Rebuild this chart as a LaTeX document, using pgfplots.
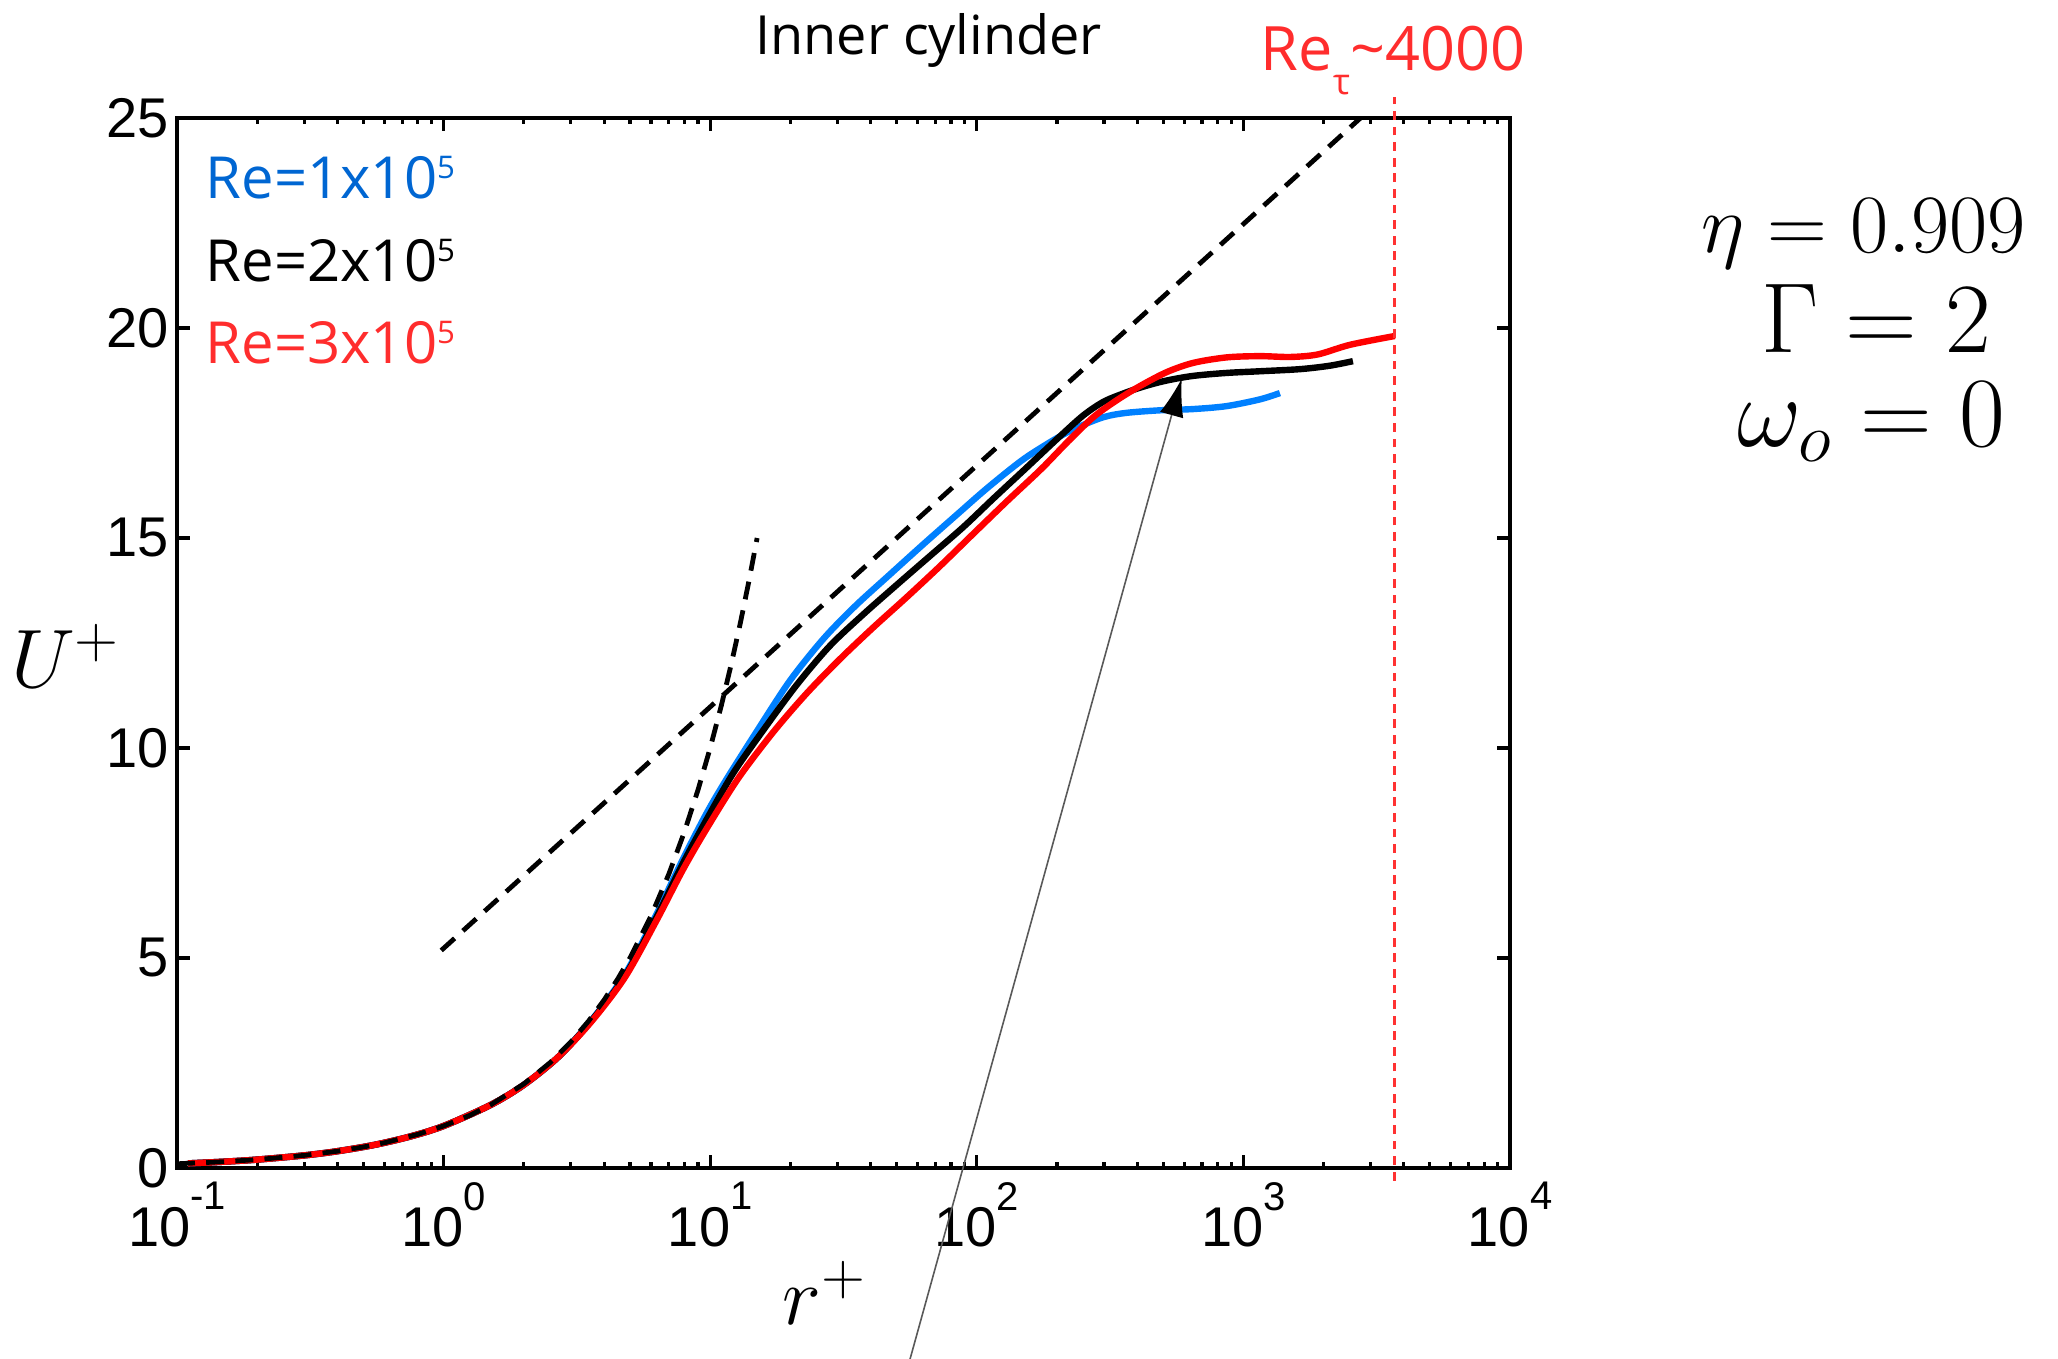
\documentclass[border=0pt]{standalone}
\usepackage{pgfplots}
\pgfplotsset{compat=1.18}
\usepackage{fontspec}
\usetikzlibrary{arrows.meta}
\newfontfamily\helv{Liberation Sans}
\newfontfamily\myr{Open Sans}
\definecolor{cblue}{RGB}{0,128,255}
\definecolor{tblue}{RGB}{0,102,210}
\definecolor{tred}{RGB}{255,45,45}
\definecolor{vred}{RGB}{255,50,50}
\newcommand{\tl}[1]{10\raisebox{9.2pt}{\fontsize{10}{10}\selectfont #1}}
\newcommand{\sfive}{\raisebox{5.2pt}{\fontsize{7.8}{8}\selectfont 5}}
\begin{document}
\begin{tikzpicture}
\begin{axis}[
  scale only axis, width=333.25pt, height=262.5pt,
  xmode=log, log basis x=10,
  xmin=0.1, xmax=10000, ymin=0, ymax=25,
  xtick={0.1,1,10,100,1000,10000},
  xticklabels={\tl{-1},\tl{0},\tl{1},\tl{2},\tl{3},\tl{4}},
  minor xtick={0.2,0.3,0.4,0.5,0.6,0.7,0.8,0.9,2,3,4,5,6,7,8,9,20,30,40,50,60,70,80,90,200,300,400,500,600,700,800,900,2000,3000,4000,5000,6000,7000,8000,9000},
  ytick={0,5,10,15,20,25},
  yticklabels={0,5,10,15,20,25},
  minor ytick={},
  axis line style={line width=1.2pt},
  every tick/.style={black, line width=0.8pt},
  major tick length=3.2pt, minor tick length=1.6pt,
  tick align=inside,
  ticklabel style={font=\helv\fontsize{14}{14}\selectfont},
  yticklabel style={xshift=1.5pt},
  clip=false,
]
% Re = 1e5
\addplot[cblue, line width=1.6pt, smooth] coordinates {
(0.11,0.11)(0.15,0.15)(0.2,0.2)(0.3,0.3)(0.4,0.4)(0.55,0.55)(0.75,0.75)(1,1)(1.5,1.5)(2,1.98)(2.7,2.65)(3.6,3.53)(4.8,4.62)(6.3,6.05)(7.9,7.35)(9.7,8.45)(11.5,9.25)(14.9,10.38)(19.9,11.6)(26.6,12.6)(35,13.38)(47,14.12)(63,14.85)(84,15.55)(110,16.2)(150,16.88)(200,17.38)(240,17.64)(300,17.88)(365,17.98)(486,18.04)(649,18.07)(865,18.14)(1153,18.3)(1371,18.45)};
% Re = 2e5
\addplot[black, line width=1.6pt, smooth] coordinates {
(0.11,0.11)(0.15,0.15)(0.2,0.2)(0.3,0.3)(0.4,0.4)(0.55,0.55)(0.75,0.75)(1,1)(1.5,1.5)(2,1.98)(2.7,2.65)(3.6,3.52)(4.8,4.58)(6.3,5.98)(7.9,7.25)(9.7,8.3)(12.2,9.4)(15.8,10.42)(21.1,11.5)(28.1,12.43)(37.5,13.18)(50,13.88)(66.7,14.57)(89,15.26)(115,15.93)(154,16.68)(205,17.42)(251,17.92)(300,18.25)(365,18.47)(430,18.62)(516,18.75)(649,18.86)(865,18.93)(1153,18.97)(1629,19.02)(2100,19.1)(2576,19.21)};
% Re = 3e5
\addplot[red, line width=1.6pt, smooth] coordinates {
(0.11,0.11)(0.15,0.15)(0.2,0.2)(0.3,0.3)(0.4,0.4)(0.55,0.55)(0.75,0.75)(1,1)(1.5,1.5)(2,1.98)(2.7,2.65)(3.6,3.5)(4.8,4.55)(6.3,5.9)(7.9,7.1)(9.7,8.08)(12.75,9.28)(17.25,10.38)(23,11.3)(30.7,12.12)(40.9,12.87)(54.6,13.59)(72.8,14.33)(97,15.1)(130,15.88)(175,16.65)(220,17.3)(274,17.88)(335,18.28)(410,18.62)(516,18.95)(649,19.17)(865,19.3)(1153,19.33)(1500,19.31)(1900,19.37)(2512,19.6)(3700,19.81)};
% viscous sublayer U+ = r+
\addplot[black, line width=1.2pt, dash pattern=on 4.5pt off 2.8pt] coordinates {
(0.1,0.1)(0.15,0.15)(0.2,0.2)(0.3,0.3)(0.4,0.4)(0.5,0.5)(0.6,0.6)(0.8,0.8)(1,1)(1.25,1.25)(1.5,1.5)(2,2)(2.5,2.5)(3,3)(3.5,3.5)(4,4)(4.5,4.5)(5,5)(6,6)(7,7)(8,8)(9,9)(10,10)(11,11)(12,12)(13,13)(14,14)(15,15)};
% log law
\addplot[black, line width=1.2pt, dash pattern=on 4.5pt off 2.8pt] coordinates {(0.98,5.18) (2750,25)};
% Re_tau line
\addplot[vred, line width=0.8pt, dash pattern=on 2.2pt off 1.7pt] coordinates {(3700,-0.3) (3700,25.5)};
\end{axis}
% arrow
\draw[gray!70!black, line width=0.4pt, -{Latex[length=9.5pt,width=6pt,color=black]}] (181.05pt,-55.75pt) -- (251.2pt,197.4pt);
% texts
\node[anchor=base, inner sep=0pt, font=\myr\fontsize{13.5}{14}\selectfont] at (187.9pt,278.25pt) {Inner cylinder};
\node[anchor=base, inner sep=0pt, text=tred, font=\myr\fontsize{15.3}{15}\selectfont] at (304pt,274.25pt) {Re\raisebox{-5.8pt}{\fontsize{9}{9}\selectfont τ}\textasciitilde 4000};
\node[anchor=base west, inner sep=0pt, text=tblue, font=\myr\fontsize{14.5}{14}\selectfont] at (7pt,242.25pt) {Re=1x10\sfive};
\node[anchor=base west, inner sep=0pt, text=black, font=\myr\fontsize{14.5}{14}\selectfont] at (7pt,221.5pt) {Re=2x10\sfive};
\node[anchor=base west, inner sep=0pt, text=tred, font=\myr\fontsize{14.5}{14}\selectfont] at (7pt,201pt) {Re=3x10\sfive};
\node[anchor=base, inner sep=0pt] at (421.6pt,228.75pt) {\fontsize{21}{20}\selectfont $\eta = 0.909$};
\node[anchor=base, inner sep=0pt] at (424.75pt,203.75pt) {\fontsize{24}{24}\selectfont $\Gamma = 2$};
\node[anchor=base, inner sep=0pt] at (423.7pt,180.25pt) {\fontsize{26.5}{26}\selectfont $\omega_o = 0$};
\node[inner sep=0pt] at (-27.75pt,128pt) {\fontsize{19.5}{19}\selectfont $U^{+}$};
\node[inner sep=0pt] at (162pt,-31.25pt) {\fontsize{20}{20}\selectfont $r^{+}$};
\pgfresetboundingbox
\path[use as bounding box] (-44.25pt,-47.75pt) rectangle (470.25pt,292pt);
\end{tikzpicture}
\end{document}
